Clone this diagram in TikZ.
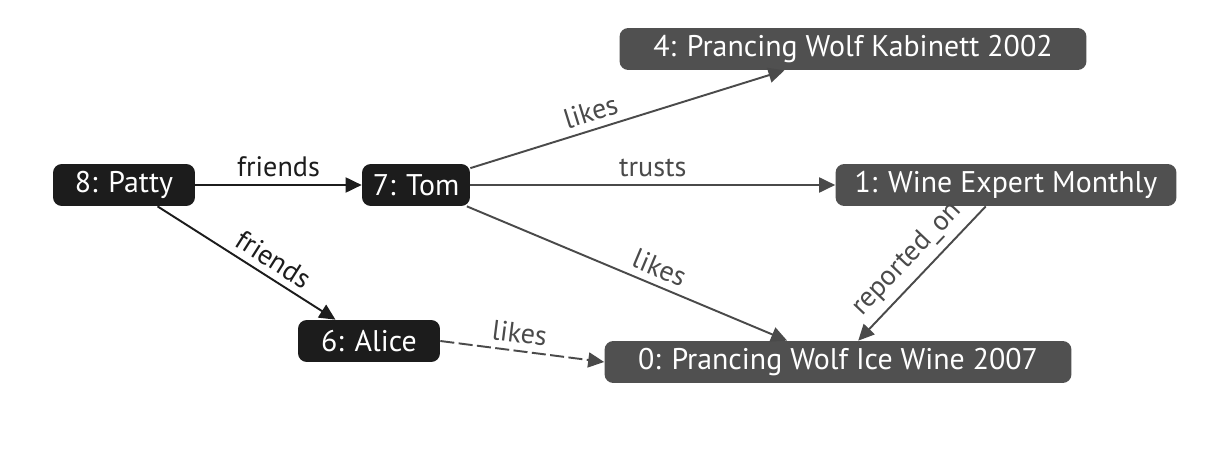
\documentclass[tikz,border=0pt]{standalone}
\usepackage{fontspec}
\setmainfont{PT Sans}
\usetikzlibrary{arrows.meta}
\definecolor{personfill}{HTML}{1C1C1C}
\definecolor{thingfill}{HTML}{505050}
\definecolor{edgegrey}{HTML}{4A4A4A}
\tikzset{
  person/.style={fill=personfill, text=white, rounded corners=5pt, minimum height=0.84cm, inner xsep=0pt, font=\fontsize{17}{20}\selectfont},
  thing/.style={person, fill=thingfill},
  rel/.style={-{Triangle[length=0.32cm,width=0.3cm]}, line width=1.1pt, color=personfill},
  relgrey/.style={rel, color=edgegrey},
  lbl/.style={font=\fontsize{16}{19}\selectfont, sloped, above, inner sep=4pt}
}

\begin{document}
\begin{tikzpicture}[x=0.02cm,y=-0.02cm]
        \useasboundingbox (0,0) rectangle (1224,456);
        % people
        \node[person, minimum width=2.84cm] (patty) at (124,185) {8: Patty};
        \node[person, minimum width=2.16cm] (tom) at (416,185) {7: Tom};
        \node[person, minimum width=2.84cm] (alice) at (369,341) {6: Alice};
        % wines and magazine
        \node[thing, minimum width=9.34cm] (kabinett) at (853,49) {4: Prancing Wolf Kabinett 2002};
        \node[thing, minimum width=6.82cm] (expert) at (1006,185) {1: Wine Expert Monthly};
        \node[thing, minimum width=9.34cm] (icewine) at (838,362) {0: Prancing Wolf Ice Wine 2007};
        % relations
        \draw[rel] (patty.east) -- node[lbl]{friends} (tom.west);
        \draw[rel] (patty) -- node[lbl, pos=0.6]{friends} (alice);
        \draw[relgrey] (tom) -- node[lbl, pos=0.4]{likes} (kabinett);
        \draw[relgrey] (tom.east) -- node[lbl]{trusts} (expert.west);
        \draw[relgrey] (tom) -- node[lbl, pos=0.58]{likes} (icewine);
        \draw[relgrey, dash pattern=on 8pt off 2.5pt] (alice.east) -- node[lbl, pos=0.47]{likes} (icewine.west);
        \draw[relgrey] (expert) -- node[lbl]{reported\_on} (icewine);
    \end{tikzpicture}
\end{document}
